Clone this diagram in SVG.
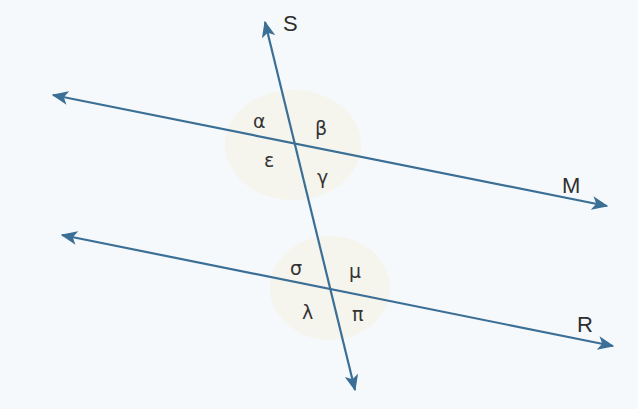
<svg xmlns="http://www.w3.org/2000/svg" width="638" height="409" viewBox="0 0 638 409">
<style>
.ln{stroke:#3b6f96;stroke-width:2.2;fill:none}
.lb{font-family:"Liberation Sans",Arial,sans-serif;font-size:22px;fill:#2e2e2e}
.gk{font-family:"DejaVu Sans","Liberation Sans",sans-serif;font-size:19px;fill:#333}
.halo{fill:#f5f0dc;opacity:0.45}
</style>
<defs>
<marker id="ah" viewBox="0 0 12 10" refX="11" refY="5" markerWidth="7.5" markerHeight="6.25" orient="auto-start-reverse" markerUnits="strokeWidth">
<path d="M0,0 L12,5 L0,10 L3,5 Z" fill="#3b6f96"/>
</marker>
</defs>
<rect width="638" height="409" fill="#f6f9fb"/>
<ellipse class="halo" cx="293" cy="145" rx="68" ry="55"/>
<ellipse class="halo" cx="330" cy="288" rx="60" ry="52"/>
<g id="connectors">
<line id="M" class="ln" x1="53" y1="95" x2="607" y2="206" marker-start="url(#ah)" marker-end="url(#ah)"/>
<line id="R" class="ln" x1="62" y1="235" x2="613" y2="346" marker-start="url(#ah)" marker-end="url(#ah)"/>
<line id="S" class="ln" x1="265" y1="22" x2="355" y2="390" marker-start="url(#ah)" marker-end="url(#ah)"/>
</g>
<g id="labels">
<text class="lb" x="283" y="31">S</text>
<text class="lb" x="562" y="193">M</text>
<text class="lb" x="577" y="332">R</text>
</g>
<g id="angles">
<text class="gk" x="253" y="128">α</text>
<text class="gk" x="315" y="135">β</text>
<text class="gk" x="264" y="167">ε</text>
<text class="gk" x="317" y="184">γ</text>
<text class="gk" x="290" y="275">σ</text>
<text class="gk" x="349" y="278">μ</text>
<text class="gk" x="302" y="319">λ</text>
<text class="gk" x="352" y="321">π</text>
</g>
</svg>
